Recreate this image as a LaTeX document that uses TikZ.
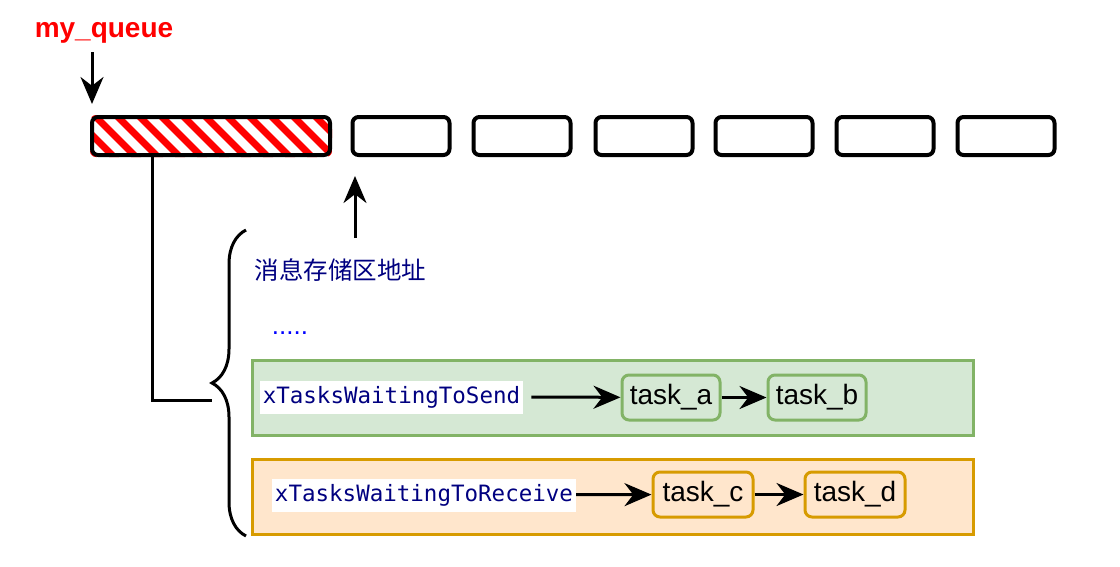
\documentclass[tikz,border=0pt]{standalone}
\usepackage{fontspec}
\setmainfont{Liberation Sans}
\setmonofont{DejaVu Sans Mono}
\newfontfamily\cjk{Noto Sans CJK SC}
\usepackage{tikz}
\usepackage{xcolor}
\definecolor{qred}{RGB}{255, 0, 0}
\definecolor{qnavy}{RGB}{0, 0, 128}
\definecolor{qblue}{RGB}{0, 0, 255}
\definecolor{sendfill}{RGB}{213, 232, 212}
\definecolor{senddraw}{RGB}{130, 179, 102}
\definecolor{recvfill}{RGB}{255, 230, 204}
\definecolor{recvdraw}{RGB}{215, 155, 0}
\usetikzlibrary{arrows.meta, positioning, backgrounds, decorations.pathreplacing}

\tikzset{
  cell/.style={draw=black, line width=4pt, rounded corners=6pt, minimum width=97pt, minimum height=38pt},
  listbox/.style={line width=3pt, minimum width=721pt, minimum height=75pt},
  tasknode/.style={line width=3pt, rounded corners=7pt, minimum width=98pt, minimum height=45pt, inner xsep=2pt, font=\fontsize{28}{30}\selectfont},
  listname/.style={fill=white, text=qnavy, minimum height=33pt, inner xsep=3pt, font=\ttfamily\fontsize{22.5}{25}\selectfont},
  arr/.style={-{Stealth[length=27pt, width=23pt]}, line width=3pt},
}

\begin{document}
\begin{tikzpicture}[x=1pt, y=-1pt]
    \useasboundingbox (0,0) rectangle (1120,566);
    % the queue cells
    \node[cell, minimum width=238pt] (q0) at (211,136) {};
    \node[cell] (q1) at (401,136) {};
    \node[cell] (q2) at (522,136) {};
    \node[cell] (q3) at (644,136) {};
    \node[cell] (q4) at (764,136) {};
    \node[cell] (q5) at (885,136) {};
    \node[cell] (q6) at (1006,136) {};
    \begin{scope}[on background layer]
      \clip[rounded corners=6pt] (q0.south west) rectangle (q0.north east);
      \foreach \s in {40,62,...,340}
        \draw[qred, line width=7pt] (\s,105) -- ++(60,60);
    \end{scope}

    \node[text=qred, font=\bfseries\fontsize{28}{30}\selectfont] (mq) at (104,33) {my\_queue};
    \coordinate (mqtail) at (92,52);
    \coordinate (mqtip) at (92,104);
    \draw[arr] (mqtail) -- (mqtip);

    % message storage pointer
    \coordinate (addrtail) at (355,238);
    \coordinate (addrtip) at (355,176);
    \draw[arr] (addrtail) -- (addrtip);

    % brace with the queue structure members
    \coordinate (brtop) at (246,230);
    \coordinate (brbot) at (246,536);
    \draw[line width=3pt, decorate, decoration={brace, amplitude=34pt}] (brbot) -- (brtop);
    \coordinate (link) at (152,400);
    \coordinate (brtip) at (212,400);
    \draw[line width=3pt] (q0.south -| link) -- (link) -- (brtip);

    \node[anchor=west, text=qnavy, font=\cjk\fontsize{24.5}{27}\selectfont] (addr) at (251,270) {消息存储区地址};
    \node[text=qblue, font=\fontsize{26}{28}\selectfont] (dots) at (290,333) {.....};

    % waiting lists
    \node[listbox, draw=senddraw, fill=sendfill] (sendbox) at (612.5,397.5) {};
    \node[listbox, draw=recvdraw, fill=recvfill] (recvbox) at (612.5,497) {};

    \node[listname] (send) at (391.5,397) {xTasksWaitingToSend};
    \node[tasknode, draw=senddraw, fill=sendfill] (ta) at (671,397.5) {task\_a};
    \node[tasknode, draw=senddraw, fill=sendfill] (tb) at (817,397.5) {task\_b};
    \draw[arr] (send.east) ++(8,0) -- (ta);
    \draw[arr] (ta) -- (tb);

    \node[listname] (recv) at (424,495) {xTasksWaitingToReceive};
    \node[tasknode, draw=recvdraw, fill=recvfill, minimum width=100pt] (tc) at (703,494.5) {task\_c};
    \node[tasknode, draw=recvdraw, fill=recvfill, minimum width=100pt] (td) at (855,494.5) {task\_d};
    \draw[arr] (recv) -- (tc);
    \draw[arr] (tc) -- (td);
  \end{tikzpicture}
\end{document}
